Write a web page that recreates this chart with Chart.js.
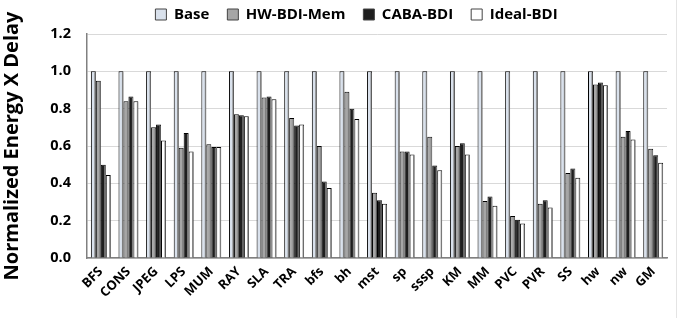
<!DOCTYPE html>
<html>
<head>
<meta charset="utf-8">
<script src="https://cdn.jsdelivr.net/npm/chart.js@4/dist/chart.umd.min.js"></script>
<style>
  html, body { margin: 0; padding: 0; background: #fff; }
  #wrap { position: relative; width: 688px; height: 318px; }
  #edge { position: absolute; left: 676px; top: 0; width: 1px; height: 318px; background: #e4e4e4; }
</style>
</head>
<body>
<div id="wrap">
  <canvas id="chart" width="688" height="318"></canvas>
  <div id="edge"></div>
</div>
<script>
// ---- data ----
const categories = ['BFS', 'CONS', 'JPEG', 'LPS', 'MUM', 'RAY', 'SLA', 'TRA', 'bfs', 'bh', 'mst',
  'sp', 'sssp', 'KM', 'MM', 'PVC', 'PVR', 'SS', 'hw', 'nw', 'GM'];
const seriesNames = ['Base', 'HW-BDI-Mem', 'CABA-BDI', 'Ideal-BDI'];
const baseVals  = [1, 1, 1, 1, 1, 1, 1, 1, 1, 1, 1, 1, 1, 1, 1, 1, 1, 1, 1, 1, 1];
const hwVals    = [0.95, 0.84, 0.70, 0.59, 0.61, 0.77, 0.86, 0.75, 0.60, 0.89, 0.35,
  0.57, 0.65, 0.60, 0.305, 0.225, 0.29, 0.455, 0.93, 0.65, 0.585];
const cabaVals  = [0.50, 0.865, 0.715, 0.67, 0.595, 0.765, 0.865, 0.71, 0.41, 0.80, 0.31,
  0.57, 0.495, 0.615, 0.33, 0.205, 0.31, 0.48, 0.94, 0.68, 0.55];
const idealVals = [0.445, 0.84, 0.63, 0.57, 0.595, 0.76, 0.85, 0.715, 0.375, 0.745, 0.29,
  0.555, 0.47, 0.555, 0.28, 0.185, 0.27, 0.43, 0.925, 0.635, 0.51];
const yTicks = [0, 0.2, 0.4, 0.6, 0.8, 1.0, 1.2];

const fills = ['#d9e1ec', '#a6a6a6', '#1e1e1e', '#ffffff'];
const FONT = '"Open Sans", Lato, sans-serif';

// фиксированная высота легенды + сдвиг (как в оригинале)
const legendPlace = {
  id: 'legendPlace',
  beforeInit(chart) {
    const lg = chart.legend;
    if (!lg) return;
    const fit = lg.fit;
    lg.fit = function () { fit.call(this); this.height = 34; };
  },
  afterLayout(chart) {
    const lg = chart.legend;
    if (!lg) return;
    lg.left += 23;
    lg.right += 23;
    lg.top -= 11;
    lg.bottom -= 11;
  }
};

// серая полоска справа от каждого столбца
const barShade = {
  id: 'barShade',
  afterDatasetsDraw(chart) {
    const ctx = chart.ctx;
    ctx.save();
    ctx.fillStyle = '#7f7f7f';
    chart.data.datasets.forEach((ds, i) => {
      chart.getDatasetMeta(i).data.forEach(bar => {
        const r = bar.x + bar.width / 2;
        ctx.fillRect(r - 1.5, bar.y + 1, 1.2, bar.base - bar.y - 1);
      });
    });
    ctx.restore();
  }
};

new Chart(document.getElementById('chart'), {
  type: 'bar',
  data: {
    labels: categories,
    datasets: [baseVals, hwVals, cabaVals, idealVals].map((vals, i) => ({
      label: seriesNames[i],
      data: vals,
      backgroundColor: fills[i],
      borderColor: '#000000',
      borderWidth: 1,
      barPercentage: 1,
      categoryPercentage: 0.72
    }))
  },
  options: {
    responsive: false,
    animation: false,
    layout: { padding: { left: 0, right: 21, top: 0, bottom: 0 } },
    plugins: {
      legend: {
        position: 'top',
        labels: {
          font: { family: FONT, size: 15, weight: 'bold' },
          color: '#000',
          boxWidth: 11,
          boxHeight: 11,
          padding: 18,
          generateLabels: chart => seriesNames.map((n, i) => ({
            text: n, fillStyle: fills[i], strokeStyle: '#444', lineWidth: 1, datasetIndex: i
          }))
        }
      },
      tooltip: { enabled: false }
    },
    scales: {
      x: {
        grid: { display: false, drawTicks: false },
        border: { color: '#808080', width: 1.5 },
        ticks: {
          font: { family: FONT, size: 13, weight: 'bold' },
          color: '#000',
          maxRotation: 45,
          minRotation: 45,
          padding: 6
        },
        afterFit: s => { s.height = 60; }
      },
      y: {
        min: 0,
        max: 1.2,
        afterBuildTicks: s => { s.ticks = yTicks.map(v => ({ value: v })); },
        grid: { color: '#d9d9d9', drawTicks: false },
        border: { color: '#808080', width: 1.5 },
        ticks: {
          font: { family: FONT, size: 14.5, weight: 'bold' },
          color: '#000',
          padding: 16,
          callback: v => v.toFixed(1)
        },
        title: {
          display: true,
          text: 'Normalized Energy X Delay',
          font: { family: FONT, size: 20, weight: 'bold' },
          color: '#000',
          padding: { top: 0, bottom: 2 }
        },
        afterFit: s => { s.width = 87; }
      }
    }
  },
  plugins: [legendPlace, barShade]
});
</script>
</body>
</html>
